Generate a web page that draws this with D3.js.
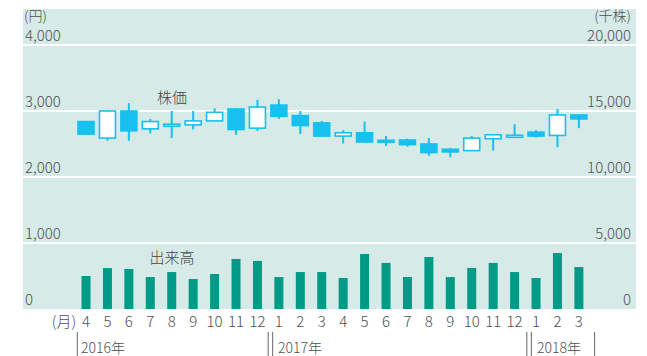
<!DOCTYPE html>
<html>
<head>
<meta charset="utf-8">
<script src="https://cdn.jsdelivr.net/npm/d3@7"></script>
<style>
  html, body { margin: 0; padding: 0; background: #fff; }
  svg { display: block; font-family: "Noto Sans CJK JP", "Noto Sans", sans-serif; font-weight: 300; }
</style>
</head>
<body>
<div id="chart"></div>
<script>
// Monthly candles (price, 円) and volume (千株), Apr 2016 – Mar 2018
const MONTHS = ["4","5","6","7","8","9","10","11","12","1","2","3","4","5","6","7","8","9","10","11","12","1","2","3"];
const OPEN  = [2840,2590,3000,2730,2785,2790,2850,3030,2740,3090,2930,2820,2620,2670,2556,2560,2500,2420,2400,2580,2620,2680,2630,2940];
const CLOSE = [2650,3000,2700,2840,2800,2850,2980,2720,3060,2920,2780,2620,2670,2530,2544,2490,2370,2380,2590,2640,2632,2620,2940,2880];
const HIGH  = [2850,3010,3120,2880,3000,3000,3040,3040,3170,3180,3000,2850,2710,2840,2620,2580,2590,2440,2620,2640,2800,2710,3030,2940];
const LOW   = [2640,2550,2550,2660,2590,2720,2850,2640,2700,2880,2650,2620,2510,2530,2470,2460,2320,2300,2400,2400,2600,2600,2450,2740];
const VOLUME = [2500,3100,3030,2420,2800,2270,2650,3790,3640,2420,2800,2800,2350,4170,3490,2420,3940,2420,3110,3490,2800,2350,4240,3180];
const PRICE_TICKS  = [0,1000,2000,3000,4000];
const VOLUME_TICKS = [0,5000,10000,15000,20000];
const YEARS = [{ label: "2016年", from: 0, to: 9 }, { label: "2017年", from: 9, to: 21 }, { label: "2018年", from: 21, to: 24 }];

const W = 647, H = 356;
const plot = { left: 23, right: 636, top: 9, bottom: 309 };
const BLUE = "#17c0ef", TEAL = "#009b86", BG = "#d6eae7", TXT = "#505050";
const FS = 15;

const svg = d3.select("#chart").append("svg").attr("width", W).attr("height", H);

/* ── Scales ── */
const x = d3.scaleBand().domain(d3.range(MONTHS.length)).range([75.3, 589.6]).padding(0);
const yP = d3.scaleLinear().domain([0, 4000]).range([plot.bottom, 45]);
const yV = d3.scaleLinear().domain([0, 20000]).range([plot.bottom, 45]);
const cx = i => x(i) + x.bandwidth() / 2;

/* ── Background + grid ── */
svg.append("rect")
  .attr("x", plot.left).attr("y", plot.top)
  .attr("width", plot.right - plot.left).attr("height", plot.bottom - plot.top)
  .attr("fill", BG);

svg.append("g").selectAll("line")
  .data(PRICE_TICKS.filter(d => d > 0))
  .join("line")
  .attr("x1", plot.left).attr("x2", plot.right)
  .attr("y1", d => yP(d)).attr("y2", d => yP(d))
  .attr("stroke", "#fff").attr("stroke-width", 2);

/* ── Axis labels ── */
const lab = svg.append("g").attr("font-size", FS).attr("fill", TXT);
lab.selectAll("text.l").data(PRICE_TICKS).join("text").attr("class", "l")
  .attr("x", 25).attr("y", d => yP(d) - 4)
  .text(d => d3.format(",")(d));
lab.selectAll("text.r").data(VOLUME_TICKS).join("text").attr("class", "r")
  .attr("x", 631).attr("y", d => yV(d) - 4).attr("text-anchor", "end")
  .text(d => d3.format(",")(d));
lab.append("text").attr("x", 24).attr("y", 21).attr("font-size", FS - 1).text("(円)");
lab.append("text").attr("x", 631).attr("y", 21).attr("font-size", FS - 1).attr("text-anchor", "end").text("(千株)");

/* ── Volume bars ── */
svg.append("g").selectAll("rect")
  .data(VOLUME)
  .join("rect")
  .attr("x", (d, i) => cx(i) - 4.5).attr("width", 9)
  .attr("y", d => yV(d)).attr("height", d => yV(0) - yV(d))
  .attr("fill", TEAL);

/* ── Candles ── */
const candles = svg.append("g").selectAll("g")
  .data(MONTHS.map((m, i) => ({ i, o: OPEN[i], c: CLOSE[i], h: HIGH[i], l: LOW[i] })))
  .join("g");

candles.append("line")
  .attr("x1", d => cx(d.i)).attr("x2", d => cx(d.i))
  .attr("y1", d => yP(d.h)).attr("y2", d => yP(d.l))
  .attr("stroke", BLUE).attr("stroke-width", 2);

candles.append("rect")
  .attr("x", d => cx(d.i) - 8).attr("width", 16)
  .attr("y", d => yP(Math.max(d.o, d.c)))
  .attr("height", d => Math.max(2, yP(Math.min(d.o, d.c)) - yP(Math.max(d.o, d.c))))
  .attr("fill", d => d.c >= d.o ? "#fff" : BLUE)
  .attr("stroke", BLUE).attr("stroke-width", 1.6);

/* ── Series labels ── */
svg.append("text").attr("x", 172).attr("y", 103).attr("text-anchor", "middle")
  .attr("font-size", FS).attr("fill", "#444").text("株価");
svg.append("text").attr("x", 172).attr("y", 263).attr("text-anchor", "middle")
  .attr("font-size", FS).attr("fill", "#444").text("出来高");

/* ── Month axis ── */
const mx = svg.append("g").attr("font-size", FS).attr("fill", TXT);
mx.selectAll("text").data(MONTHS).join("text")
  .attr("x", (d, i) => cx(i)).attr("y", 327).attr("text-anchor", "middle")
  .text(d => d);
mx.append("text").attr("x", 64).attr("y", 327).attr("text-anchor", "middle").text("(月)");

/* ── Year separators ── */
const sepX = [x(0) + 2, x(9), x(9) + 4.5, x(21) + 1.5, x(21) + 6, x(23) + x.bandwidth() + 5];
svg.append("g").selectAll("line").data(sepX).join("line")
  .attr("x1", d => d).attr("x2", d => d)
  .attr("y1", 332).attr("y2", 356)
  .attr("stroke", "#666").attr("stroke-width", 1);

svg.append("g").attr("font-size", FS - 1).attr("fill", TXT)
  .selectAll("text").data(YEARS).join("text")
  .attr("x", (d, i) => [81, 278, 537][i]).attr("y", 353)
  .text(d => d.label);
</script>
</body>
</html>
